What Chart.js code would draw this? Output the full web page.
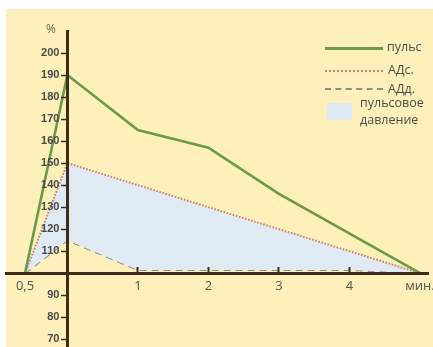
<!DOCTYPE html>
<html>
<head>
<meta charset="utf-8">
<script src="https://cdn.jsdelivr.net/npm/chart.js@4/dist/chart.umd.min.js"></script>
<style>
  html, body { margin: 0; padding: 0; background: #ffffff; }
  #wrap { position: relative; width: 433px; height: 347px; overflow: hidden; background: #ffffff; }
  #panel { position: absolute; left: 6px; top: 9px; right: 0; bottom: 0; background: #fdf0ba; }
  canvas { position: absolute; left: 0; top: 0; }
  .t { position: absolute; font-family: "Open Sans", sans-serif; font-size: 12.5px; color: #4e4e4e; line-height: 16px; white-space: nowrap; }
  .ln { position: absolute; height: 0; }
</style>
</head>
<body>
<div id="wrap">
  <div id="panel"></div>
  <canvas id="c" width="433" height="347"></canvas>
  <div class="t" style="left:46px; top:21px; font-size:12px; color:#666;">%</div>
  <div class="ln" style="left:325px; top:47px; width:58px; border-top:3px solid #6b9a48;"></div>
  <div class="t" style="left:387px; top:39px;">пульс</div>
  <div class="ln" style="left:325px; top:70px; width:58px; border-top:2px dotted #cf7f6c;"></div>
  <div class="t" style="left:388px; top:62px;">АДс.</div>
  <div class="ln" style="left:325px; top:88px; width:58px; border-top:2px dashed #8e8d86;"></div>
  <div class="t" style="left:388px; top:81px;">АДд.</div>
  <div style="position:absolute; left:327px; top:103px; width:25px; height:17px; background:#dee9f1;"></div>
  <div class="t" style="left:360px; top:95px;">пульсовое</div>
  <div class="t" style="left:360px; top:112px;">давление</div>
</div>
<script>
// ---- data ----
const X_TICKS = [-0.6, 1, 2, 3, 4, 5];
const X_TICK_LABELS = ["0,5", "1", "2", "3", "4", "мин."];
const Y_TICKS = [70, 80, 90, 110, 120, 130, 140, 150, 160, 170, 180, 190, 200];

const PULSE_X = [-0.6, 0, 1, 2, 3, 5];
const PULSE   = [100, 190, 165, 157, 136, 100];
const SYS_X   = [-0.6, 0, 5];
const SYS     = [100, 150, 100];
const DIA_X   = [-0.6, 0, 1, 2, 3, 4, 5];
const DIA     = [100, 115, 101.5, 101.5, 101.5, 101.5, 100];

const SERIES_NAMES = ["пульс", "АДс.", "АДд.", "пульсовое давление"];

// ---- styles ----
const AXIS = "#3d2e1c";
const pts = (xs, ys) => xs.map((x, i) => ({ x: x, y: ys[i] }));
const zeroPad = s => { s.paddingLeft = 0; s.paddingRight = 0; s.paddingTop = 0; s.paddingBottom = 0; };

// y axis placed at x = 0: shift its labels left of the tick marks
const shiftYLabels = s => {
  if (s.__patched) return;
  s.__patched = true;
  const orig = s._computeLabelItems;
  s._computeLabelItems = function (area) {
    const items = orig.call(this, area);
    const off = this.options.grid.tickLength + this.options.ticks.padding;
    items.forEach(it => { if (it.options && it.options.translation) it.options.translation[0] -= off; });
    return items;
  };
};

new Chart(document.getElementById("c"), {
  type: "line",
  data: {
    datasets: [
      { label: SERIES_NAMES[0], data: pts(PULSE_X, PULSE), borderColor: "#6b9a48", borderWidth: 2.6, pointRadius: 0, fill: false, tension: 0 },
      { label: SERIES_NAMES[1], data: pts(SYS_X, SYS), borderColor: "#cf7f6c", borderWidth: 2, borderDash: [1.6, 1.6], pointRadius: 0, tension: 0,
        fill: { target: 2, above: "#dfeaf3", below: "#dfeaf3" } },
      { label: SERIES_NAMES[2], data: pts(DIA_X, DIA), borderColor: "#8e8d86", borderWidth: 2, borderDash: [7, 5], pointRadius: 0, fill: false, tension: 0 }
    ]
  },
  options: {
    responsive: false,
    animation: false,
    devicePixelRatio: 1,
    layout: { padding: { left: 6, right: 5, top: 31, bottom: 0 } },
    plugins: { legend: { display: false }, tooltip: { enabled: false } },
    scales: {
      x: {
        type: "linear", min: -0.87, max: 5.113,
        position: { y: 100 },
        afterBuildTicks: s => { s.ticks = X_TICKS.map(v => ({ value: v })); },
        afterFit: zeroPad,
        ticks: {
          z: 1, autoSkip: false, maxRotation: 0, padding: 13,
          color: "#555", font: { family: "Open Sans", size: 13 },
          callback: (v) => { const i = X_TICKS.indexOf(v); return i >= 0 ? X_TICK_LABELS[i] : ""; }
        },
        grid: { z: 1, drawOnChartArea: false, tickLength: -8, tickWidth: 2,
          tickColor: c => (c.tick && (c.tick.value < 0.5 || c.tick.value > 4.5)) ? "rgba(0,0,0,0)" : AXIS },
        border: { z: 1, color: AXIS, width: 3 }
      },
      y: {
        type: "linear", min: 66.5, max: 210,
        position: { x: 0 },
        afterBuildTicks: s => { s.ticks = Y_TICKS.map(v => ({ value: v })); },
        afterFit: zeroPad,
        afterUpdate: shiftYLabels,
        ticks: { z: 1, padding: 3, color: "#4a4a4a", font: { family: "Liberation Sans", size: 11, weight: "bold" } },
        grid: { z: 1, drawOnChartArea: false, tickLength: 5, tickWidth: 1.5, tickColor: AXIS },
        border: { z: 1, color: AXIS, width: 3 }
      }
    }
  }
});
</script>
</body>
</html>
